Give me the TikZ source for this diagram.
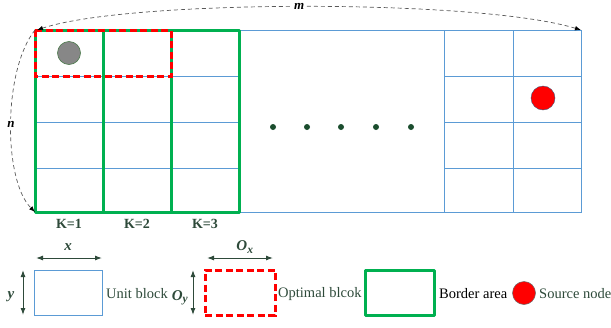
\documentclass[tikz,border=0pt]{standalone}
\usepackage{fontspec}
\setmainfont{Liberation Serif}
\usetikzlibrary{arrows.meta}
\definecolor{gblue}{HTML}{5B9BD5}
\definecolor{bgreen}{HTML}{00B050}
\definecolor{txtg}{HTML}{2E4A3A}
\definecolor{dotg}{HTML}{1B4D2E}
\tikzset{
  unitline/.style={draw=gblue, line width=1pt},
  borderline/.style={draw=bgreen, line width=3pt, line join=round},
  optline/.style={draw=red, line width=3pt, dash pattern=on 7pt off 3.5pt},
  dimarc/.style={draw=black!65, line width=0.7pt, dash pattern=on 4pt off 3pt, -{Latex[length=6pt,width=4.5pt,black]}},
  legarrow/.style={draw=txtg, line width=1pt, {Latex[length=7pt,width=5pt]}-{Latex[length=7pt,width=5pt]}},
  lbl/.style={text=txtg, font=\fontsize{14.5}{15}\selectfont, inner sep=0pt, anchor=west},
  klbl/.style={text=txtg, font=\fontsize{14}{15}\selectfont\bfseries, inner sep=0pt},
  dimlbl/.style={text=txtg, font=\fontsize{15}{16}\selectfont\bfseries\itshape, inner sep=0pt},
  dotnode/.style={circle, fill=dotg, inner sep=0pt, minimum size=6pt},
}
\begin{document}
\begin{tikzpicture}[x=1pt,y=-1pt]
\useasboundingbox (0,0) rectangle (611,327);
% corners
\coordinate (TL) at (35,30);
\coordinate (TR) at (581,30);
\coordinate (BL) at (35,212);
% unit grid (blue)
\draw[unitline] (35,30) rectangle (581,212);
\foreach \yy in {76,122,168} {
  \draw[unitline] (35,\yy) -- (239,\yy);
  \draw[unitline] (444,\yy) -- (581,\yy);
}
\draw[unitline] (444,30) -- (444,212);
\draw[unitline] (513,30) -- (513,212);
% border area (green)
\draw[borderline] (35,30) rectangle (239,212);
\draw[borderline] (103,30) -- (103,212);
\draw[borderline] (171,30) -- (171,212);
% optimal block (red dashed)
\draw[optline] (35,30) rectangle (171,76);
% circles
\node[circle, fill=black!47, draw=black!55!green!40!gray, line width=0.6pt, minimum size=23pt, inner sep=0pt] (gc) at (69,53) {};
\node[circle, fill=red, draw=gblue!60!black, line width=0.4pt, minimum size=24pt, inner sep=0pt] (src) at (543,98) {};
% dots
\foreach \xx [count=\i] in {273,307,341,376,411} {
  \node[dotnode] (d\i) at (\xx,127) {};
}
% K labels
\node[klbl] (k1) at (69,224) {K=1};
\node[klbl] (k2) at (137,224) {K=2};
\node[klbl] (k3) at (205,224) {K=3};
% m and n arcs
\draw[dimarc, {Latex[length=6pt,width=4.5pt,black]}-{Latex[length=6pt,width=4.5pt,black]}] (37,30) .. controls (130,-1) and (480,-1) .. (TR)
  node[pos=0.49, fill=white, inner xsep=2pt, inner ysep=1pt, font=\fontsize{13}{13}\selectfont\bfseries\itshape] (mlab) {m};
\draw[dimarc] (TL) .. controls (3,70) and (3,180) .. (BL)
  node[pos=0.5, fill=white, inner xsep=1pt, inner ysep=2pt, font=\fontsize{13}{13}\selectfont\bfseries\itshape] (nlab) {n};
% legend: unit block
\node[draw=gblue, line width=1pt, minimum width=68pt, minimum height=45pt, inner sep=0pt] (ub) at (68,292.5) {};
\coordinate (uxa) at (36,258); \coordinate (uxb) at (102,258);
\draw[legarrow] (uxa) -- (uxb);
\node[dimlbl] (xl) at (68,247) {x};
\coordinate (uya) at (23,270); \coordinate (uyb) at (23,315);
\draw[legarrow] (uya) -- (uyb);
\node[dimlbl] (yl) at (11,297) {y};
\node[lbl] (ubt) at (106,294) {Unit block};
% legend: optimal block
\node[optline, minimum width=70pt, minimum height=45pt, inner sep=0pt] (ob) at (240,292.5) {};
\coordinate (oxa) at (207,258); \coordinate (oxb) at (273,258);
\draw[legarrow] (oxa) -- (oxb);
\node[dimlbl] (oxl) at (245,247) {O\textsubscript{\fontsize{11.5}{12}\selectfont x}};
\coordinate (oya) at (193,270); \coordinate (oyb) at (193,315);
\draw[legarrow] (oya) -- (oyb);
\node[dimlbl] (oyl) at (180,298) {O\textsubscript{\fontsize{11.5}{12}\selectfont y}};
\node[lbl] (obt) at (278,294) {Optimal blcok};
% legend: border area
\node[borderline, minimum width=69pt, minimum height=45pt, inner sep=0pt] (ba) at (399.5,292.5) {};
\node[lbl, text=black] (bat) at (439,294) {Border area};
% legend: source node
\node[circle, fill=red, draw=black!60, line width=0.5pt, minimum size=23pt, inner sep=0pt] (sn) at (524,293) {};
\node[lbl] (snt) at (539,294) {Source node};
\end{tikzpicture}
\end{document}
